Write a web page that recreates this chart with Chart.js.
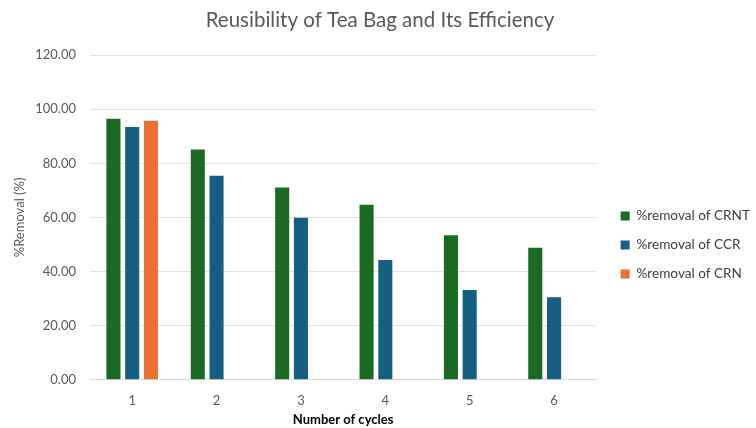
<!DOCTYPE html>
<html>
<head>
<meta charset="utf-8">
<title>Reusibility of Tea Bag and Its Efficiency</title>
<script src="https://cdn.jsdelivr.net/npm/chart.js@4.4.1/dist/chart.umd.min.js"></script>
<style>
  html, body { margin: 0; padding: 0; background: #ffffff; }
  #wrap { width: 756px; height: 428px; position: relative; }
</style>
</head>
<body>
<div id="wrap"><canvas id="chart"></canvas></div>
<script>
// Number of reuse cycles of the tea bag
const cycles = ['1', '2', '3', '4', '5', '6'];

// Percentage removal for each adsorbate per cycle
const removalCRNT = [96.5, 85.1, 71.1, 64.7, 53.4, 48.8];
const removalCCR = [93.4, 75.4, 59.9, 44.3, 33.2, 30.5];
const removalCRN = [95.7, null, null, null, null, null];

const seriesNames = ['%removal of CRNT', '%removal of CCR', '%removal of CRN'];

const FONT = 'Lato, "Open Sans", sans-serif';

new Chart(document.getElementById('chart'), {
  type: 'bar',
  data: {
    labels: cycles,
    datasets: [
      { label: seriesNames[0], data: removalCRNT, backgroundColor: '#196B24', yAxisID: 'y' },
      { label: seriesNames[1], data: removalCCR, backgroundColor: '#156082', yAxisID: 'y' },
      { label: seriesNames[2], data: removalCRN, backgroundColor: '#E97132', yAxisID: 'y' }
    ]
  },
  options: {
    responsive: true,
    maintainAspectRatio: false,
    animation: false,
    datasets: { bar: { categoryPercentage: 0.667, barPercentage: 0.75 } },
    layout: { padding: { left: 0, right: -4, top: 8, bottom: 0 } },
    plugins: {
      title: {
        display: true,
        text: 'Reusibility of Tea Bag and Its Efficiency',
        color: '#595959',
        font: { family: FONT, size: 20.5, weight: 'normal' },
        padding: { top: 0, bottom: 22.5 }
      },
      legend: {
        position: 'right',
        maxWidth: 200,
        // blank title used only to push the item column down a little
        title: { display: true, text: ' ', font: { size: 10 }, padding: { top: 0, bottom: 42 } },
        labels: {
          boxWidth: 9,
          boxHeight: 9,
          padding: 15.4,
          color: '#404040',
          font: { family: FONT, size: 13.6 }
        }
      },
      tooltip: { enabled: false }
    },
    scales: {
      x: {
        grid: { display: false, drawTicks: true, tickLength: 9 },
        border: { color: '#d9d9d9' },
        ticks: { color: '#595959', font: { family: FONT, size: 13 }, padding: 4 },
        title: {
          display: true,
          text: 'Number of cycles',
          color: '#000000',
          font: { family: FONT, size: 13, weight: 'bold' },
          padding: { top: 0, bottom: 0 }
        }
      },
      y: {
        min: 0,
        max: 120,
        afterFit: (scale) => { scale.width = 90; },
        grid: { color: '#e3e3e3', drawTicks: false },
        border: { display: false },
        ticks: {
          stepSize: 20,
          padding: 14,
          color: '#595959',
          font: { family: FONT, size: 13 },
          callback: (v) => Number(v).toFixed(2)
        },
        title: {
          display: true,
          text: '%Removal (%)',
          color: '#595959',
          font: { family: FONT, size: 13, weight: 'normal' },
          padding: { top: 12, bottom: 0 }
        }
      },
      // empty spacer between the plot and the legend
      gap: {
        type: 'linear',
        position: 'right',
        display: true,
        grid: { display: false, drawOnChartArea: false },
        border: { display: false },
        ticks: { display: false },
        afterFit: (scale) => { scale.width = 9; }
      }
    }
  }
});
</script>
</body>
</html>
